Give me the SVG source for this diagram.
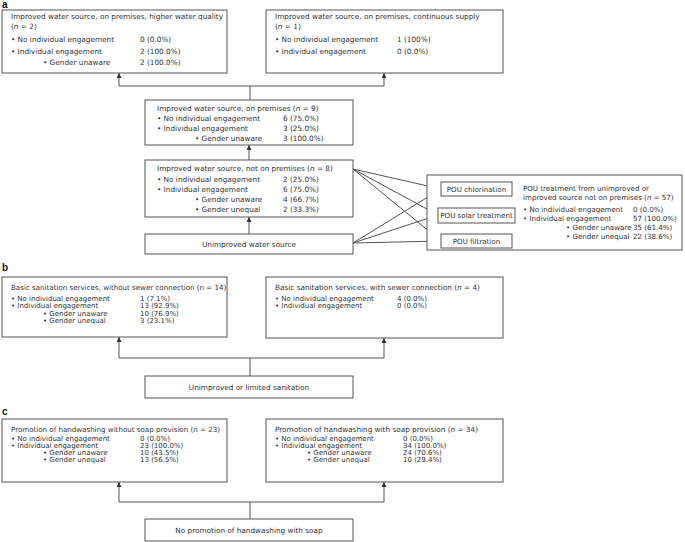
<svg xmlns="http://www.w3.org/2000/svg" width="685" height="542" viewBox="0 0 685 542">
<style>
  text { font-family: "DejaVu Sans", "Liberation Sans", sans-serif; font-size: 7.3px; fill: #333; }
  .lbl { font-family: "Liberation Sans", Arial, sans-serif; font-weight: bold; font-size: 10px; fill: #111; }
  .sm { font-size: 7px; }
  .tt { font-size: 7.1px; }
  .pou text { font-size: 7.1px; }
  .box { fill: #fff; stroke: #555; stroke-width: 1; }
  .c { text-anchor: middle; }
  .ln { fill: none; stroke: #555; stroke-width: 1; }
  .i { font-style: italic; }
</style>
<defs>
  <marker id="ah" viewBox="0 0 6 6" refX="6" refY="3" markerWidth="5" markerHeight="5" orient="auto" markerUnits="userSpaceOnUse">
    <path d="M0,0 L6,3 L0,6 Z" fill="#333"/>
  </marker>
</defs>
<rect width="685" height="542" fill="#fff"/>

<text class="lbl" x="2" y="8">a</text>
<text class="lbl" x="2" y="271">b</text>
<text class="lbl" x="2" y="415">c</text>

<g id="connectors">
  <polyline class="ln" points="250,100 250,86"/>
  <polyline class="ln" points="119,86 384,86"/>
  <polyline class="ln" points="119,86 119,73" marker-end="url(#ah)"/>
  <polyline class="ln" points="384,86 384,73" marker-end="url(#ah)"/>
  <polyline class="ln" points="249,160 249,145" marker-end="url(#ah)"/>
  <polyline class="ln" points="249,234 249,217" marker-end="url(#ah)"/>
  <line class="ln" x1="353" y1="169" x2="441" y2="189" marker-end="url(#ah)"/>
  <line class="ln" x1="353" y1="169" x2="438" y2="215" marker-end="url(#ah)"/>
  <line class="ln" x1="353" y1="169" x2="441" y2="241" marker-end="url(#ah)"/>
  <line class="ln" x1="353" y1="243" x2="441" y2="189" marker-end="url(#ah)"/>
  <line class="ln" x1="353" y1="243" x2="438" y2="215" marker-end="url(#ah)"/>
  <line class="ln" x1="353" y1="243" x2="441" y2="241" marker-end="url(#ah)"/>
  <polyline class="ln" points="250,376 250,358"/>
  <polyline class="ln" points="119,358 384,358"/>
  <polyline class="ln" points="119,358 119,337" marker-end="url(#ah)"/>
  <polyline class="ln" points="384,358 384,338" marker-end="url(#ah)"/>
  <polyline class="ln" points="250,519 250,502"/>
  <polyline class="ln" points="119,502 384,502"/>
  <polyline class="ln" points="119,502 119,482" marker-end="url(#ah)"/>
  <polyline class="ln" points="384,502 384,482" marker-end="url(#ah)"/>
</g>

<g id="a-quality">
  <rect class="box" x="2" y="10" width="225" height="63"/>
  <text x="11" y="19">Improved water source, on premises, higher water quality</text>
  <text x="11" y="29">(<tspan class="i">n</tspan> = 2)</text>
  <text x="11" y="42">• No individual engagement</text><text x="140" y="42">0 (0.0%)</text>
  <text x="11" y="54">• Individual engagement</text><text x="140" y="54">2 (100.0%)</text>
  <text x="43" y="65">• Gender unaware</text><text x="140" y="65">2 (100.0%)</text>
</g>

<g id="a-continuous">
  <rect class="box" x="266" y="10" width="237" height="63"/>
  <text x="275" y="19">Improved water source, on premises, continuous supply</text>
  <text x="275" y="29">(<tspan class="i">n</tspan> = 1)</text>
  <text x="275" y="42">• No individual engagement</text><text x="397" y="42">1 (100%)</text>
  <text x="275" y="54">• Individual engagement</text><text x="397" y="54">0 (0.0%)</text>
</g>

<g id="a-onpremises">
  <rect class="box" x="145" y="100" width="208" height="45"/>
  <text x="157" y="111">Improved water source, on premises (<tspan class="i">n</tspan> = 9)</text>
  <text x="157" y="121">• No individual engagement</text><text x="283" y="121">6 (75.0%)</text>
  <text x="157" y="131">• Individual engagement</text><text x="283" y="131">3 (25.0%)</text>
  <text x="195" y="141">• Gender unaware</text><text x="283" y="141">3 (100.0%)</text>
</g>

<g id="a-notonpremises">
  <rect class="box" x="145" y="160" width="208" height="57"/>
  <text x="157" y="171">Improved water source, not on premises (<tspan class="i">n</tspan> = 8)</text>
  <text x="157" y="182">• No individual engagement</text><text x="283" y="182">2 (25.0%)</text>
  <text x="157" y="192">• Individual engagement</text><text x="283" y="192">6 (75.0%)</text>
  <text x="195" y="202">• Gender unaware</text><text x="283" y="202">4 (66.7%)</text>
  <text x="195" y="212">• Gender unequal</text><text x="283" y="212">2 (33.3%)</text>
</g>

<g id="a-unimproved">
  <rect class="box" x="145" y="234" width="208" height="20"/>
  <text class="c" x="249" y="246.5">Unimproved water source</text>
</g>

<g id="a-pou" class="pou">
  <rect class="box" x="427" y="175" width="255" height="75"/>
  <text x="523" y="191">POU treatment from unimproved or</text>
  <text x="523" y="200">improved source not on premises (<tspan class="i">n</tspan> = 57)</text>
  <text x="523" y="211.5">• No individual engagement</text><text x="633" y="211.5">0 (0.0%)</text>
  <text x="523" y="220.5">• Individual engagement</text><text x="633" y="220.5">57 (100.0%)</text>
  <text x="566" y="230">• Gender unaware</text><text x="633" y="230">35 (61.4%)</text>
  <text x="566" y="239">• Gender unequal</text><text x="633" y="239">22 (38.6%)</text>
</g>

<g id="a-chlorination" class="pou">
  <rect class="box" x="441" y="182" width="71" height="14"/>
  <text class="c" x="476.5" y="191.5">POU chlorination</text>
</g>
<g id="a-solar" class="pou">
  <rect class="box" x="438" y="208" width="77" height="15"/>
  <text class="c" x="476.5" y="218">POU solar treatment</text>
</g>
<g id="a-filtration" class="pou">
  <rect class="box" x="441" y="234" width="71" height="14"/>
  <text class="c" x="476.5" y="243.5">POU filtration</text>
</g>

<g id="b-without">
  <rect class="box" x="2" y="277" width="225" height="60"/>
  <text class="tt" x="11" y="290">Basic sanitation services, without sewer connection (n = 14)</text>
  <text class="sm" x="11" y="300.5">• No individual engagement</text><text class="sm" x="140" y="300.5">1  (7.1%)</text>
  <text class="sm" x="11" y="308.1">• Individual engagement</text><text class="sm" x="140" y="308.1">13 (92.9%)</text>
  <text class="sm" x="43" y="315.7">• Gender unaware</text><text class="sm" x="140" y="315.7">10 (76.9%)</text>
  <text class="sm" x="43" y="323.3">• Gender unequal</text><text class="sm" x="140" y="323.3">3 (23.1%)</text>
</g>

<g id="b-with">
  <rect class="box" x="266" y="277" width="237" height="61"/>
  <text x="275" y="290">Basic sanitation services, with sewer connection (<tspan class="i">n</tspan> = 4)</text>
  <text class="sm" x="275" y="300.5">• No individual engagement</text><text class="sm" x="397" y="300.5">4 (0.0%)</text>
  <text class="sm" x="275" y="308.1">• Individual engagement</text><text class="sm" x="397" y="308.1">0 (0.0%)</text>
</g>

<g id="b-unimproved">
  <rect class="box" x="145" y="376" width="208" height="22"/>
  <text class="c" x="249" y="389.5">Unimproved or limited sanitation</text>
</g>

<g id="c-without">
  <rect class="box" x="2" y="419" width="225" height="63"/>
  <text class="tt" x="11" y="431.5">Promotion of handwashing without soap provision (n = 23)</text>
  <text class="sm" x="11" y="440.5">• No individual engagement</text><text class="sm" x="140" y="440.5">0 (0.0%)</text>
  <text class="sm" x="11" y="447.8">• Individual engagement</text><text class="sm" x="140" y="447.8">23 (100.0%)</text>
  <text class="sm" x="43" y="455.1">• Gender unaware</text><text class="sm" x="140" y="455.1">10 (43.5%)</text>
  <text class="sm" x="43" y="462.4">• Gender unequal</text><text class="sm" x="140" y="462.4">13 (56.5%)</text>
</g>

<g id="c-with">
  <rect class="box" x="266" y="419" width="237" height="63"/>
  <text x="275" y="431.5">Promotion of handwashing with soap provision (<tspan class="i">n</tspan> = 34)</text>
  <text class="sm" x="275" y="440.5">• No individual engagement</text><text class="sm" x="403" y="440.5">0 (0.0%)</text>
  <text class="sm" x="275" y="447.8">• Individual engagement</text><text class="sm" x="403" y="447.8">34 (100.0%)</text>
  <text class="sm" x="307" y="455.1">• Gender unaware</text><text class="sm" x="403" y="455.1">24 (70.6%)</text>
  <text class="sm" x="307" y="462.4">• Gender unequal</text><text class="sm" x="403" y="462.4">10 (29.4%)</text>
</g>

<g id="c-none">
  <rect class="box" x="145" y="519" width="208" height="22"/>
  <text class="c" x="249" y="532.5">No promotion of handwashing with soap</text>
</g>
</svg>
